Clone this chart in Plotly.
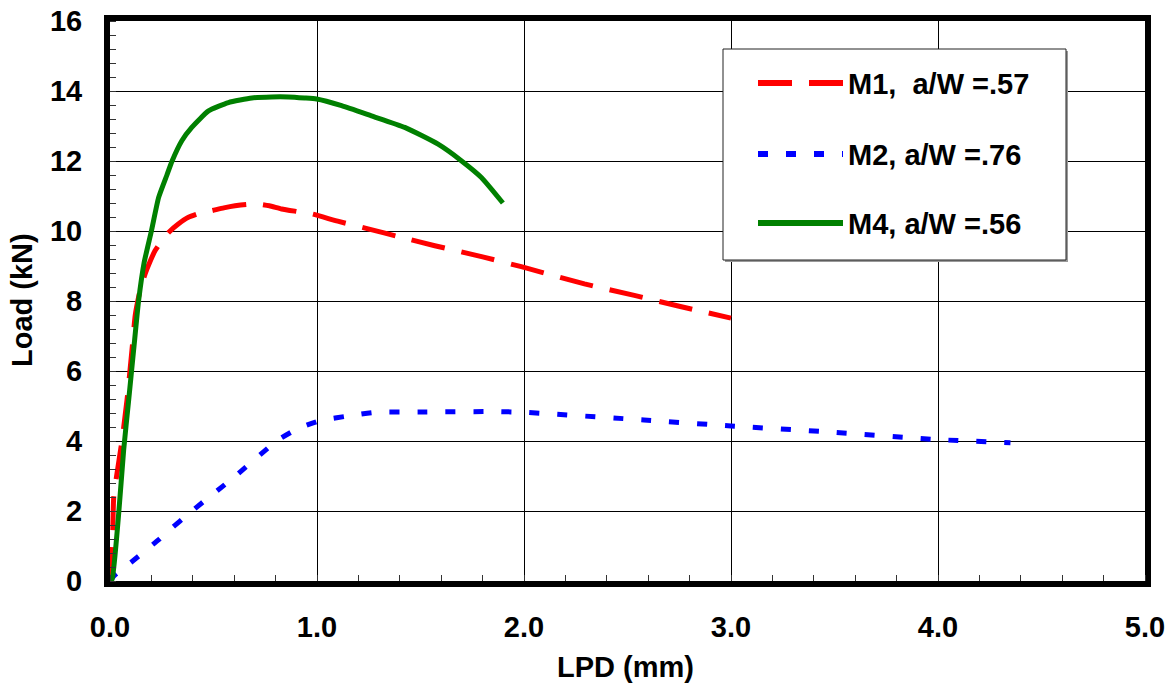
import plotly.graph_objects as go

# ---- data ----
m1_x = [0.0, 0.01, 0.018, 0.034, 0.058, 0.082, 0.106, 0.122, 0.145, 0.170, 0.195, 0.218, 0.25, 0.283,
        0.33, 0.379, 0.43, 0.492, 0.55, 0.604, 0.66, 0.717, 0.77, 0.829, 0.90, 0.974, 1.10, 1.247,
        1.40, 1.569, 1.80, 1.987, 2.292, 2.533, 2.75, 3.0]
m1_y = [0.0, 0.6, 2.4, 3.08, 4.02, 5.16, 6.59, 7.6, 8.3, 8.78, 9.15, 9.44, 9.72, 9.96,
        10.2, 10.39, 10.5, 10.58, 10.66, 10.72, 10.76, 10.77, 10.72, 10.63, 10.56, 10.49, 10.28, 10.06,
        9.83, 9.58, 9.26, 8.98, 8.49, 8.16, 7.85, 7.51]

m2_x = [0.0, 0.02, 0.12, 0.235, 0.27, 0.40, 0.60, 0.81, 0.91, 1.02, 1.17, 1.28, 1.5, 1.87,
        2.0, 2.58, 3.0, 3.47, 4.0, 4.35]
m2_y = [0.0, 0.15, 0.62, 1.18, 1.37, 2.02, 2.97, 4.02, 4.36, 4.59, 4.73, 4.82, 4.83, 4.84,
        4.82, 4.6, 4.43, 4.26, 4.04, 3.95]

m4_x = [0.0, 0.01, 0.042, 0.066, 0.09, 0.114, 0.138, 0.165, 0.20, 0.235, 0.275, 0.30, 0.347,
        0.395, 0.476, 0.572, 0.685, 0.78, 0.862, 0.94, 0.998, 1.119, 1.263, 1.424, 1.585,
        1.697, 1.794, 1.898]
m4_y = [0.0, 0.05, 1.93, 3.74, 5.16, 6.59, 8.0, 9.1, 10.0, 10.96, 11.6, 12.0, 12.58,
        12.96, 13.43, 13.67, 13.8, 13.83, 13.83, 13.8, 13.77, 13.58, 13.29, 12.96, 12.48,
        12.01, 11.53, 10.8]

labels = ["M1,\u00a0 a/W =.57", "M2, a/W =.76", "M4, a/W =.56"]
colors = ["#ff0000", "#0000ff", "#008000"]
dashes = ["34px,17px", "10px,18px", "solid"]

x_ticks = [0, 1, 2, 3, 4, 5]
y_ticks = [0, 2, 4, 6, 8, 10, 12, 14, 16]

FONT = "Liberation Sans, Arial, sans-serif"
FS = 29

fig = go.Figure()
for xs, ys, name, c, d in zip([m1_x, m2_x, m4_x], [m1_y, m2_y, m4_y], labels, colors, dashes):
    fig.add_trace(go.Scatter(x=xs, y=ys, mode="lines", name=name,
                             line=dict(color=c, width=5, dash=d, shape="spline", smoothing=0.5),
                             showlegend=False))

axis_common = dict(
    showline=True, linecolor="black", linewidth=6, mirror=True,
    showgrid=True, gridcolor="black", gridwidth=1,
    zeroline=False, ticks="", automargin=False,
    tickfont=dict(family=FONT, size=FS, color="black", weight="bold"),
)

fig.update_xaxes(range=[0, 5], tickvals=x_ticks, ticktext=[f"{v:.1f}" for v in x_ticks],
                 minor=dict(dtick=0.2, ticks="inside", ticklen=6, tickcolor="#333", tickwidth=1, showgrid=False),
                 ticklabelstandoff=15, **axis_common)
fig.update_yaxes(range=[0, 16], tickvals=y_ticks,
                 minor=dict(dtick=0.4, ticks="inside", ticklen=6, tickcolor="#333", tickwidth=1, showgrid=False),
                 ticklabelstandoff=16, **axis_common)

L, R, T, B = 110, 25, 21, 111
W, H = 1170, 692
pw, ph = W - L - R, H - T - B

def px(xp):
    return (xp - L) / pw

def py(yp):
    return (H - B - yp) / ph

shapes = []
annotations = []
# custom legend box
shapes.append(dict(type="rect", xref="paper", yref="paper", x0=px(725), x1=px(1068), y0=py(262), y1=py(51),
                   fillcolor="#999999", line=dict(width=0), layer="above"))
shapes.append(dict(type="rect", xref="paper", yref="paper", x0=px(723), x1=px(1066), y0=py(260), y1=py(49),
                   fillcolor="white", line=dict(color="#222222", width=1), layer="above"))
rows = [83, 154, 223]
for lab, c, d, ry in zip(labels, colors, dashes, rows):
    shapes.append(dict(type="line", xref="paper", yref="paper", x0=px(758), x1=px(843), y0=py(ry), y1=py(ry),
                       line=dict(color=c, width=6, dash=d), layer="above"))
    annotations.append(dict(text=lab, xref="paper", yref="paper", x=px(846), y=py(ry + 1),
                            xanchor="left", yanchor="middle", showarrow=False,
                            font=dict(family=FONT, size=FS, color="black", weight="bold")))

annotations.append(dict(text="LPD (mm)", xref="paper", yref="paper", x=px(625), y=py(667),
                        xanchor="center", yanchor="middle", showarrow=False,
                        font=dict(family=FONT, size=FS, color="black", weight="bold")))
annotations.append(dict(text="Load (kN)", xref="paper", yref="paper", x=px(22), y=py(300),
                        xanchor="center", yanchor="middle", showarrow=False, textangle=-90,
                        font=dict(family=FONT, size=FS, color="black", weight="bold")))

fig.update_layout(
    width=W, height=H,
    margin=dict(l=L, r=R, t=T, b=B, pad=0, autoexpand=False),
    paper_bgcolor="white", plot_bgcolor="white",
    shapes=shapes, annotations=annotations,
    showlegend=False,
)

fig.write_html("out.html")
